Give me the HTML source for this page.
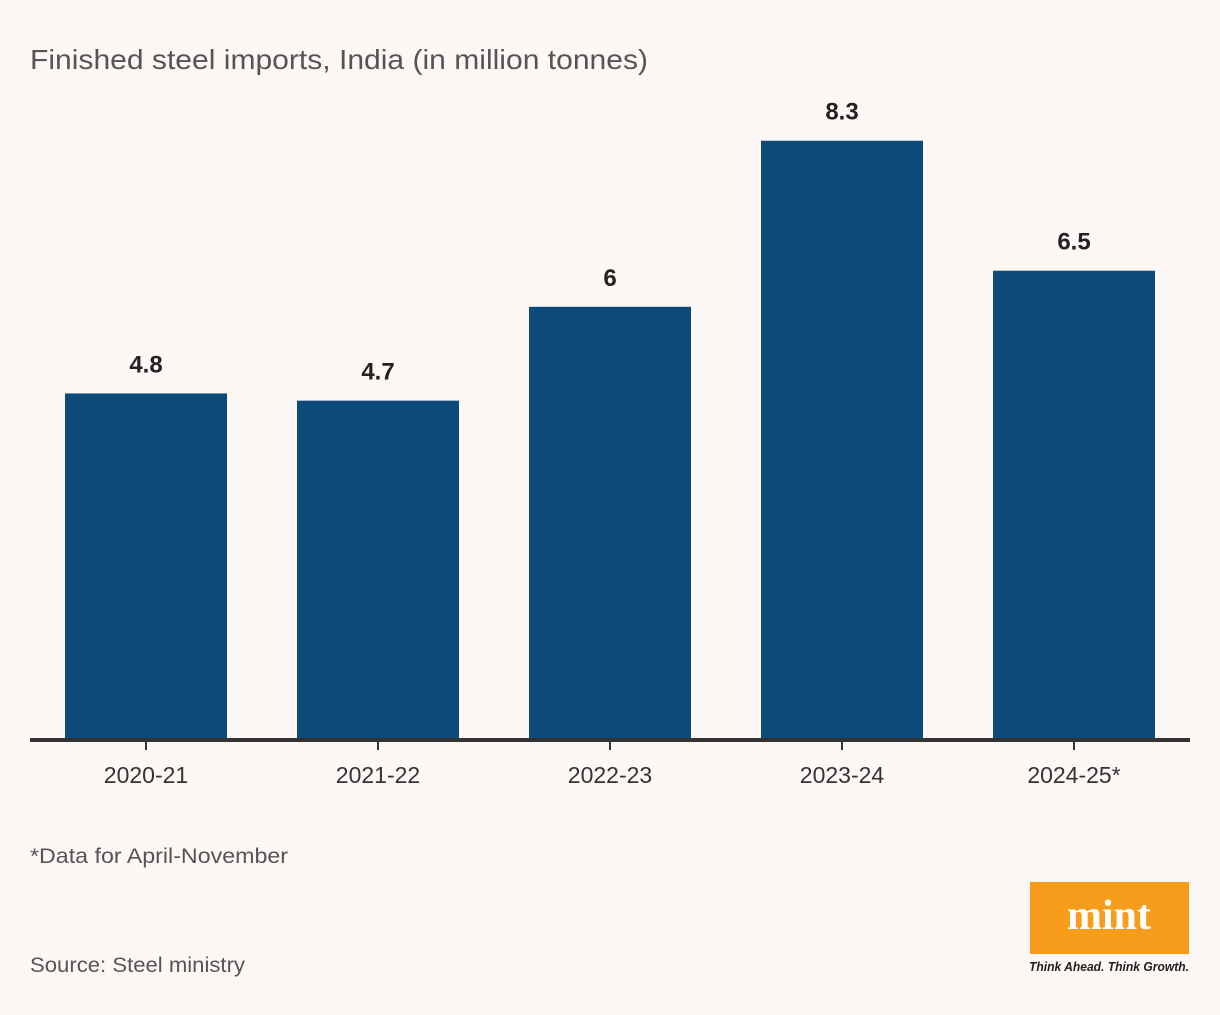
<!DOCTYPE html>
<html><head><meta charset="utf-8"><style>
body{margin:0;background:#fdf7f6;width:1220px;height:1010px;overflow:hidden;font-family:"Liberation Sans",sans-serif}
</style></head><body>
<svg width="1220" height="1010" id="c">
<rect width="1220" height="1010" fill="#fdf7f6"/>
<text x="30" y="69" font-size="28" fill="#555" textLength="618" lengthAdjust="spacingAndGlyphs">Finished steel imports, India (in million tonnes)</text>
<g id="bars"></g>
<rect x="30" y="738" width="1160" height="4" fill="#333"/>
<text x="30" y="863" font-size="21" fill="#555" textLength="258" lengthAdjust="spacingAndGlyphs">*Data for April-November</text>
<text x="30" y="972" font-size="21" fill="#555" textLength="215" lengthAdjust="spacingAndGlyphs">Source: Steel ministry</text>
<rect x="1030" y="882" width="159" height="72" fill="#f89c1c"/>
<text x="1109" y="929" font-size="42" font-weight="bold" fill="#fff" text-anchor="middle" font-family="Liberation Serif, serif">mint</text>
<text x="1109" y="971" font-size="12.5" font-weight="bold" font-style="italic" fill="#222" text-anchor="middle" textLength="160" lengthAdjust="spacingAndGlyphs">Think Ahead. Think Growth.</text>
</svg>
<script>
const categories=["2020-21","2021-22","2022-23","2023-24","2024-25*"];
const values=[4.8,4.7,6,8.3,6.5];
const labels=["4.8","4.7","6","8.3","6.5"];
const ns="http://www.w3.org/2000/svg";
const g=document.getElementById("bars");
const base=740,scale=72.2;
function x(i){return 65+i*232;}
function y(v){return base-v*scale;}
values.forEach((v,i)=>{
 const r=document.createElementNS(ns,"rect");
 r.setAttribute("x",x(i));r.setAttribute("y",y(v));r.setAttribute("width",162);r.setAttribute("height",base-y(v));r.setAttribute("fill","#0c4a79");
 
 
 g.appendChild(r);
 const t=document.createElementNS(ns,"text");
 t.setAttribute("x",x(i)+81);t.setAttribute("y",y(v)-21);t.setAttribute("text-anchor","middle");t.setAttribute("font-size","24");t.setAttribute("font-weight","bold");t.setAttribute("fill","#222");
 t.textContent=labels[i];
 
 
 g.appendChild(t);
 const tk=document.createElementNS(ns,"rect");
 tk.setAttribute("x",x(i)+80);tk.setAttribute("y",742);tk.setAttribute("width",2);tk.setAttribute("height",8);tk.setAttribute("fill","#333");
 
 
 g.appendChild(tk);
 const c=document.createElementNS(ns,"text");
 c.setAttribute("x",x(i)+81);c.setAttribute("y",783);c.setAttribute("text-anchor","middle");c.setAttribute("font-size","23");c.setAttribute("fill","#333");
 c.textContent=categories[i];
 
 
 g.appendChild(c);
});
</script>
</body></html>
